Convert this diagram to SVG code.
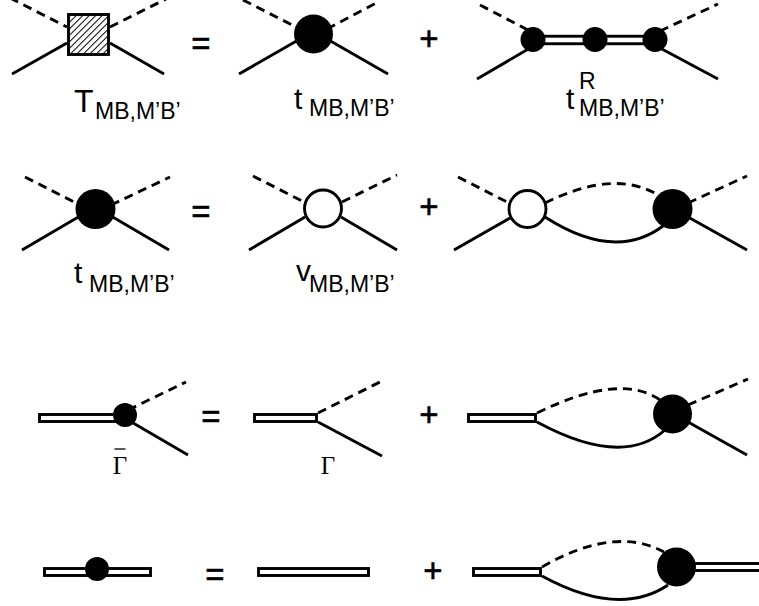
<svg xmlns="http://www.w3.org/2000/svg" width="759" height="606" viewBox="0 0 759 606">
<defs>
<pattern id="hatch" patternUnits="userSpaceOnUse" width="4.6" height="4.6" patternTransform="rotate(45)">
<rect width="4.6" height="4.6" fill="#fff"/>
<line x1="0" y1="0" x2="0" y2="4.6" stroke="#000" stroke-width="2"/>
</pattern>
</defs>
<style>
.s{stroke:#000;stroke-width:2.9;fill:none}
.d{stroke:#000;stroke-width:2.9;fill:none;stroke-dasharray:9 6}
.bar{stroke:#000;stroke-width:2.9;fill:#fff}
.blob{fill:#000}
.open{fill:#fff;stroke:#000;stroke-width:2.9}
.op{font-family:"Liberation Sans",Arial,sans-serif;font-size:33px;fill:#000;stroke:#000;stroke-width:0.6;text-anchor:middle}
.big{font-family:"Liberation Sans",Arial,sans-serif;font-size:30px;fill:#000}
.sub{font-family:"Liberation Sans",Arial,sans-serif;font-size:23px;fill:#000}
.gam{font-family:"Liberation Serif","Times New Roman",serif;font-size:25px;fill:#000;text-anchor:middle}
</style>
<rect width="759" height="606" fill="#fff"/>
<g id="connectors">
<line class="d" x1="10" y1="-2" x2="67" y2="27"/>
<line class="d" x1="110" y1="27" x2="166" y2="-1"/>
<line class="s" x1="12" y1="74" x2="67" y2="43"/>
<line class="s" x1="110" y1="43" x2="164" y2="74"/>
<line class="d" x1="243" y1="0" x2="300" y2="29"/>
<line class="d" x1="327" y1="29" x2="378" y2="2"/>
<line class="s" x1="239" y1="74" x2="300" y2="39"/>
<line class="s" x1="327" y1="39" x2="388" y2="74"/>
<line class="d" x1="480" y1="5" x2="530" y2="31"/>
<line class="d" x1="660" y1="31" x2="718" y2="4"/>
<line class="s" x1="477" y1="79" x2="530" y2="48"/>
<line class="s" x1="660" y1="48" x2="718" y2="79"/>
<rect class="bar" x="533" y="36.25" width="122" height="7.5"/>
<line class="d" x1="25" y1="177" x2="80" y2="205"/>
<line class="d" x1="111" y1="205" x2="170" y2="177"/>
<line class="s" x1="22" y1="250" x2="80" y2="216"/>
<line class="s" x1="111" y1="216" x2="169" y2="250"/>
<line class="d" x1="253" y1="176" x2="304" y2="202"/>
<line class="d" x1="342" y1="202" x2="397" y2="175"/>
<line class="s" x1="249" y1="250" x2="305" y2="217"/>
<line class="s" x1="341" y1="217" x2="397" y2="250"/>
<line class="d" x1="458" y1="177" x2="509" y2="203"/>
<line class="s" x1="454" y1="250" x2="510" y2="218"/>
<path class="d" d="M545 203 Q615 168 660 196"/>
<path class="s" d="M545 217 Q615 262 663 226"/>
<line class="d" x1="688" y1="203" x2="747" y2="176"/>
<line class="s" x1="688" y1="217" x2="747" y2="250"/>
<line class="d" x1="128" y1="410" x2="186" y2="382"/>
<line class="s" x1="128" y1="420" x2="188" y2="455"/>
<rect class="bar" x="39.5" y="414.5" width="86" height="7"/>
<line class="d" x1="318" y1="413" x2="382" y2="381"/>
<line class="s" x1="318" y1="422" x2="382" y2="456"/>
<rect class="bar" x="254.5" y="414.5" width="62" height="7"/>
<path class="d" d="M537 413 Q620 372 660 400"/>
<path class="s" d="M537 422 Q622 468 665 430"/>
<line class="d" x1="688" y1="405" x2="748" y2="379"/>
<line class="s" x1="688" y1="422" x2="747" y2="455"/>
<rect class="bar" x="468.5" y="414.5" width="67" height="7"/>
<rect class="bar" x="44.5" y="568.5" width="106" height="7"/>
<rect class="bar" x="258.5" y="568.5" width="110" height="7"/>
<path class="d" d="M542 567 Q615 525 664 552"/>
<path class="s" d="M542 576 Q619 618 668 585"/>
<rect class="bar" x="473.5" y="568.5" width="67" height="7"/>
<rect class="bar" x="690" y="563.5" width="80" height="7"/>
</g>
<g id="node-T">
<rect x="68.5" y="14.5" width="40" height="40" fill="url(#hatch)" stroke="#000" stroke-width="2.9"/>
</g>
<g id="node-t1"><circle class="blob" cx="313.5" cy="34" r="19.5"/></g>
<g id="node-tR1"><circle class="blob" cx="533" cy="39.5" r="12.5"/></g>
<g id="node-tR2"><circle class="blob" cx="595" cy="39.5" r="12.5"/></g>
<g id="node-tR3"><circle class="blob" cx="655" cy="39.5" r="12.5"/></g>
<g id="node-t2"><circle class="blob" cx="95.5" cy="209" r="20"/></g>
<g id="node-v1"><circle class="open" cx="323" cy="208.5" r="18.5"/></g>
<g id="node-v2"><circle class="open" cx="527.5" cy="209" r="18.5"/></g>
<g id="node-t3"><circle class="blob" cx="672.5" cy="209" r="20"/></g>
<g id="node-gbar"><circle class="blob" cx="125" cy="415" r="12"/></g>
<g id="node-t4"><circle class="blob" cx="672.5" cy="414" r="19.5"/></g>
<g id="node-self"><circle class="blob" cx="97" cy="569" r="12"/></g>
<g id="node-t5"><circle class="blob" cx="676.5" cy="567" r="19.5"/></g>
<g id="labels">
<text class="op" x="201" y="55">=</text>
<text class="op" x="429" y="50">+</text>
<text class="op" x="201" y="223">=</text>
<text class="op" x="429" y="218">+</text>
<text class="op" x="211" y="428">=</text>
<text class="op" x="429" y="426">+</text>
<text class="op" x="215" y="586">=</text>
<text class="op" x="433" y="582">+</text>
<text class="big" x="74" y="112" style="font-size:32px">T</text>
<text class="sub" x="95" y="119">MB,M’B’</text>
<text class="big" x="294" y="109">t</text>
<text class="sub" x="309" y="116">MB,M’B’</text>
<text class="big" x="566" y="109">t</text>
<text class="sub" x="579" y="89">R</text>
<text class="sub" x="579" y="116">MB,M’B’</text>
<text class="big" x="74" y="283">t</text>
<text class="sub" x="89" y="292">MB,M’B’</text>
<text class="big" x="296" y="281">v</text>
<text class="sub" x="309" y="292">MB,M’B’</text>
<line x1="114.5" y1="449" x2="125.5" y2="449" stroke="#000" stroke-width="1.3"/>
<text class="gam" x="120" y="474">Γ</text>
<text class="gam" x="328" y="474">Γ</text>
</g>
</svg>
